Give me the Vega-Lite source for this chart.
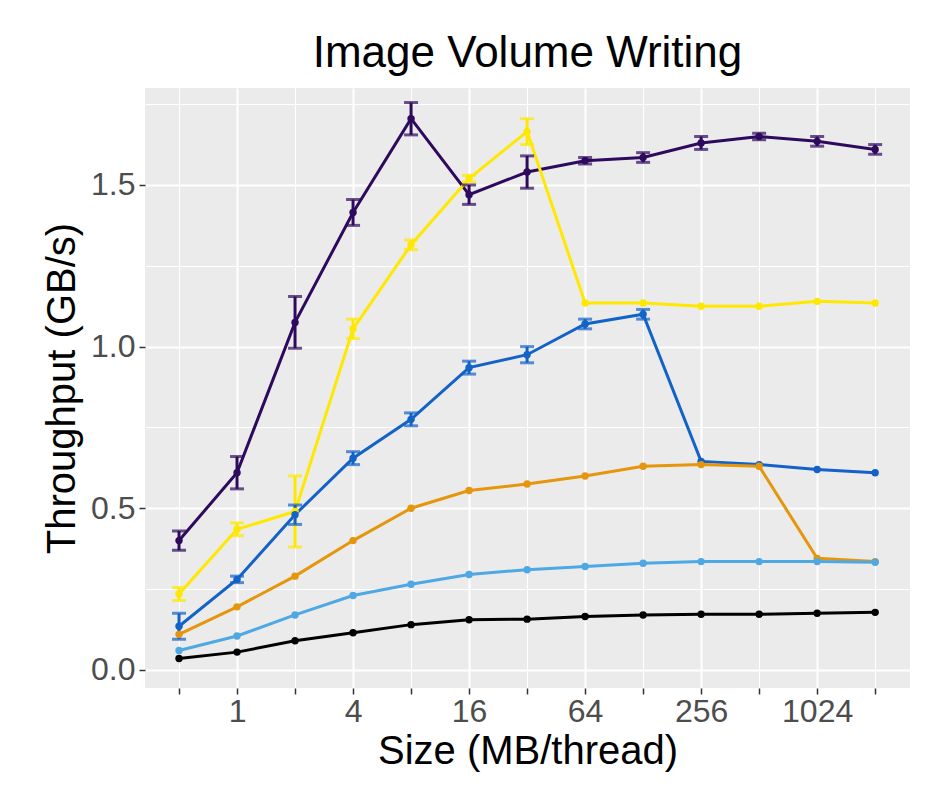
{
"$schema":"https://vega.github.io/schema/vega-lite/v6.json",
"width":765,"height":600,"autosize":"none",
"padding":{"left":145,"top":88,"right":24,"bottom":112},
"background":"white",
"title":{"text":"Image Volume Writing","fontSize":44,"font":"Liberation Sans","fontWeight":"normal","color":"black","anchor":"middle","offset":12},
"config":{"view":{"fill":"#EBEBEB","stroke":null},"font":"Liberation Sans"},
"data":{"values":[
{"s":"a","x":0.5,"y":0.40,"lo":0.37,"hi":0.43},{"s":"a","x":1,"y":0.61,"lo":0.56,"hi":0.66},{"s":"a","x":2,"y":1.075,"lo":0.995,"hi":1.155},{"s":"a","x":4,"y":1.415,"lo":1.375,"hi":1.455},{"s":"a","x":8,"y":1.705,"lo":1.655,"hi":1.755},{"s":"a","x":16,"y":1.47,"lo":1.44,"hi":1.50},{"s":"a","x":32,"y":1.54,"lo":1.49,"hi":1.59},{"s":"a","x":64,"y":1.575,"lo":1.565,"hi":1.585},{"s":"a","x":128,"y":1.585,"lo":1.57,"hi":1.60},{"s":"a","x":256,"y":1.63,"lo":1.61,"hi":1.65},{"s":"a","x":512,"y":1.65,"lo":1.64,"hi":1.66},{"s":"a","x":1024,"y":1.635,"lo":1.62,"hi":1.65},{"s":"a","x":2048,"y":1.61,"lo":1.595,"hi":1.625},
{"s":"b","x":0.5,"y":0.235,"lo":0.215,"hi":0.255},{"s":"b","x":1,"y":0.435,"lo":0.415,"hi":0.455},{"s":"b","x":2,"y":0.49,"lo":0.38,"hi":0.60},{"s":"b","x":4,"y":1.055,"lo":1.025,"hi":1.085},{"s":"b","x":8,"y":1.315,"lo":1.30,"hi":1.33},{"s":"b","x":16,"y":1.52,"lo":1.51,"hi":1.53},{"s":"b","x":32,"y":1.665,"lo":1.625,"hi":1.705},{"s":"b","x":64,"y":1.135,"lo":null,"hi":null},{"s":"b","x":128,"y":1.135,"lo":null,"hi":null},{"s":"b","x":256,"y":1.125,"lo":null,"hi":null},{"s":"b","x":512,"y":1.125,"lo":null,"hi":null},{"s":"b","x":1024,"y":1.14,"lo":null,"hi":null},{"s":"b","x":2048,"y":1.135,"lo":null,"hi":null},
{"s":"c","x":0.5,"y":0.135,"lo":0.095,"hi":0.175},{"s":"c","x":1,"y":0.28,"lo":0.27,"hi":0.29},{"s":"c","x":2,"y":0.48,"lo":0.45,"hi":0.51},{"s":"c","x":4,"y":0.655,"lo":0.635,"hi":0.675},{"s":"c","x":8,"y":0.775,"lo":0.755,"hi":0.795},{"s":"c","x":16,"y":0.935,"lo":0.915,"hi":0.955},{"s":"c","x":32,"y":0.975,"lo":0.95,"hi":1.0},{"s":"c","x":64,"y":1.07,"lo":1.055,"hi":1.085},{"s":"c","x":128,"y":1.10,"lo":1.085,"hi":1.115},{"s":"c","x":256,"y":0.645,"lo":null,"hi":null},{"s":"c","x":512,"y":0.635,"lo":null,"hi":null},{"s":"c","x":1024,"y":0.62,"lo":null,"hi":null},{"s":"c","x":2048,"y":0.61,"lo":null,"hi":null},
{"s":"d","x":0.5,"y":0.11,"lo":null,"hi":null},{"s":"d","x":1,"y":0.195,"lo":null,"hi":null},{"s":"d","x":2,"y":0.29,"lo":null,"hi":null},{"s":"d","x":4,"y":0.40,"lo":null,"hi":null},{"s":"d","x":8,"y":0.50,"lo":null,"hi":null},{"s":"d","x":16,"y":0.555,"lo":null,"hi":null},{"s":"d","x":32,"y":0.575,"lo":null,"hi":null},{"s":"d","x":64,"y":0.60,"lo":null,"hi":null},{"s":"d","x":128,"y":0.63,"lo":null,"hi":null},{"s":"d","x":256,"y":0.635,"lo":null,"hi":null},{"s":"d","x":512,"y":0.63,"lo":null,"hi":null},{"s":"d","x":1024,"y":0.345,"lo":null,"hi":null},{"s":"d","x":2048,"y":0.335,"lo":null,"hi":null},
{"s":"e","x":0.5,"y":0.06,"lo":null,"hi":null},{"s":"e","x":1,"y":0.105,"lo":null,"hi":null},{"s":"e","x":2,"y":0.17,"lo":null,"hi":null},{"s":"e","x":4,"y":0.23,"lo":null,"hi":null},{"s":"e","x":8,"y":0.265,"lo":null,"hi":null},{"s":"e","x":16,"y":0.295,"lo":null,"hi":null},{"s":"e","x":32,"y":0.31,"lo":null,"hi":null},{"s":"e","x":64,"y":0.32,"lo":null,"hi":null},{"s":"e","x":128,"y":0.33,"lo":null,"hi":null},{"s":"e","x":256,"y":0.335,"lo":null,"hi":null},{"s":"e","x":512,"y":0.335,"lo":null,"hi":null},{"s":"e","x":1024,"y":0.335,"lo":null,"hi":null},{"s":"e","x":2048,"y":0.333,"lo":null,"hi":null},
{"s":"f","x":0.5,"y":0.035,"lo":null,"hi":null},{"s":"f","x":1,"y":0.055,"lo":null,"hi":null},{"s":"f","x":2,"y":0.09,"lo":null,"hi":null},{"s":"f","x":4,"y":0.115,"lo":null,"hi":null},{"s":"f","x":8,"y":0.14,"lo":null,"hi":null},{"s":"f","x":16,"y":0.155,"lo":null,"hi":null},{"s":"f","x":32,"y":0.157,"lo":null,"hi":null},{"s":"f","x":64,"y":0.165,"lo":null,"hi":null},{"s":"f","x":128,"y":0.17,"lo":null,"hi":null},{"s":"f","x":256,"y":0.172,"lo":null,"hi":null},{"s":"f","x":512,"y":0.172,"lo":null,"hi":null},{"s":"f","x":1024,"y":0.175,"lo":null,"hi":null},{"s":"f","x":2048,"y":0.178,"lo":null,"hi":null}
]},
"encoding":{
"x":{"field":"x","type":"quantitative","scale":{"type":"log","base":2,"domain":[0.333,3106],"nice":false},
 "title":"Size (MB/thread)",
 "axis":{"values":[0.5,1,2,4,8,16,32,64,128,256,512,1024,2048],"labelExpr":"(datum.value==1||datum.value==4||datum.value==16||datum.value==64||datum.value==256||datum.value==1024) ? format(datum.value,'d') : ''",
 "labelFontSize":32,"labelColor":"#4D4D4D","titleFontSize":40,"titleFontWeight":"normal","titleColor":"black","domain":false,"tickColor":"#333333","tickSize":6,"tickWidth":1.5,
 "gridColor":"white","gridWidth":{"condition":{"test":"datum.value==1||datum.value==4||datum.value==16||datum.value==64||datum.value==256||datum.value==1024","value":2},"value":1},"labelPadding":2,"titlePadding":4}},
"y":{"field":"y","type":"quantitative","scale":{"domain":[-0.056,1.80],"nice":false,"zero":false},
 "title":"Throughput (GB/s)",
 "axis":{"values":[0,0.25,0.5,0.75,1,1.25,1.5,1.75],"labelExpr":"datum.value % 0.5 == 0 ? format(datum.value, '.1f') : ''",
 "labelFontSize":32,"labelColor":"#4D4D4D","titleFontSize":40,"titleFontWeight":"normal","titleColor":"black","domain":false,"tickColor":"#333333","tickSize":6,"tickWidth":1.5,
 "tickOpacity":{"condition":{"test":"datum.value % 0.5 == 0","value":1},"value":0},
 "gridColor":"white","gridWidth":{"condition":{"test":"datum.value % 0.5 == 0","value":2},"value":1},"labelPadding":4,"titlePadding":8}},
"color":{"field":"s","type":"nominal","legend":null,"scale":{"domain":["a","b","c","d","e","f"],"range":["#2E0A5E","#FFE800","#1262C8","#E5960C","#4EA8E4","#000000"]}}
},
"layer":[
{"mark":{"type":"line","strokeWidth":3}},
{"mark":{"type":"rule","strokeWidth":3},"encoding":{"y":{"field":"lo","type":"quantitative"},"y2":{"field":"hi"}}},
{"mark":{"type":"tick","orient":"horizontal","size":14,"thickness":3},"encoding":{"y":{"field":"lo","type":"quantitative"}}},
{"mark":{"type":"tick","orient":"horizontal","size":14,"thickness":3},"encoding":{"y":{"field":"hi","type":"quantitative"}}},
{"mark":{"type":"point","filled":true,"color":"black","opacity":1,"size":55}}
]
}
